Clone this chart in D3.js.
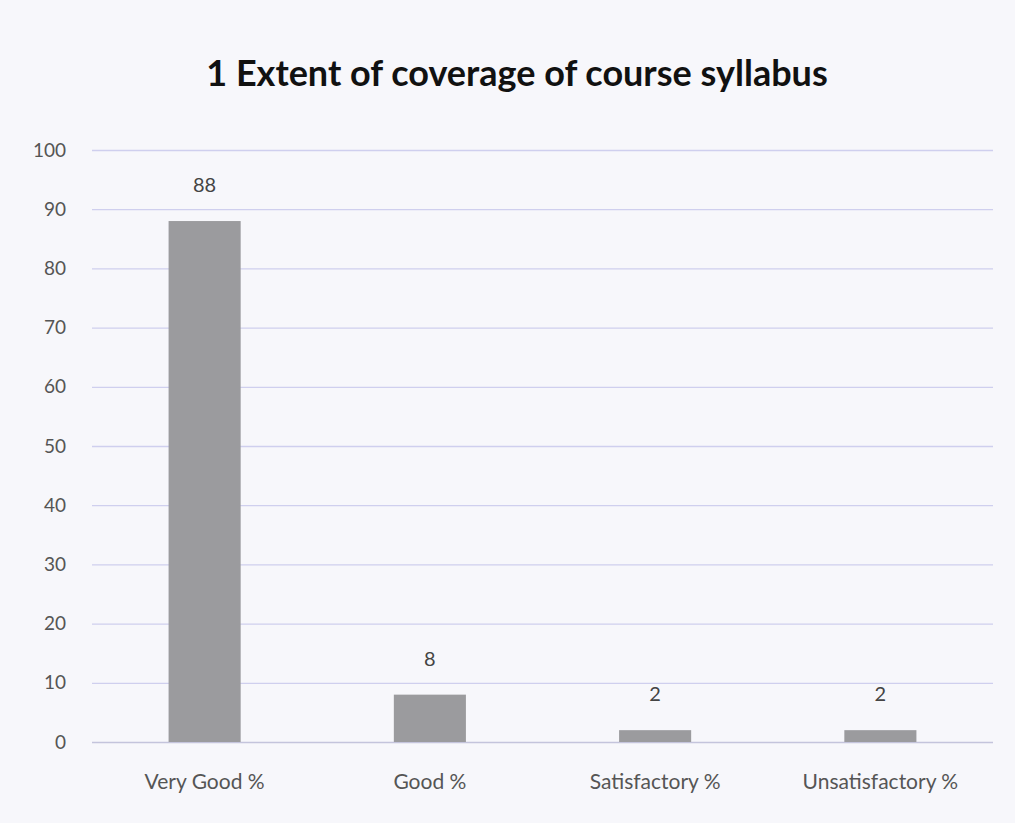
<!DOCTYPE html>
<html lang="en">
<head>
    <meta charset="UTF-8">
    <title>1 Extent of coverage of course syllabus</title>
    <script src="https://cdn.jsdelivr.net/npm/d3@7"></script>
    <style>
        body { margin: 0; background: #f7f7fb; }
        svg { display: block; font-family: Lato, "Open Sans", sans-serif; }
    </style>
</head>
<body>
<svg id="chart" width="1015" height="823"></svg>
<script>
    // data
    var categories = ["Very Good %", "Good %", "Satisfactory %", "Unsatisfactory %"];
    var values = [88, 8, 2, 2];
    var yTicks = [0, 10, 20, 30, 40, 50, 60, 70, 80, 90, 100];
    var title = "1 Extent of coverage of course syllabus";

    var svg = d3.select("#chart");
    var margin = { top: 150, right: 22, bottom: 81, left: 92 };
    var width = +svg.attr("width") - margin.left - margin.right;
    var height = +svg.attr("height") - margin.top - margin.bottom;

    svg.append("rect")
        .attr("width", 1015).attr("height", 823)
        .attr("fill", "#f7f7fb");

    svg.append("text")
        .attr("x", 517).attr("y", 86)
        .attr("text-anchor", "middle")
        .attr("font-size", 36)
        .attr("font-weight", "bold")
        .attr("fill", "#111")
        .text(title);

    var g = svg.append("g")
        .attr("transform", "translate(" + margin.left + "," + margin.top + ")");

    var x = d3.scaleBand()
        .domain(categories)
        .range([0, width])
        .paddingInner(0.68)
        .paddingOuter(0.34);

    var y = d3.scaleLinear()
        .domain([0, 100])
        .range([height, 0]);

    // gridlines
    g.append("g")
        .selectAll("line")
        .data(yTicks)
        .enter()
        .append("line")
        .attr("x1", 0).attr("x2", width)
        .attr("y1", function (d) { return y(d) + 0.5; })
        .attr("y2", function (d) { return y(d) + 0.5; })
        .attr("stroke", function (d) { return d === 0 ? "#c4c4dc" : "#cfcfee"; })
        .attr("stroke-width", 1.3);

    // y axis labels
    var yAxis = d3.axisLeft(y).tickValues(yTicks).tickSize(0).tickPadding(26);
    var ya = g.append("g").call(yAxis);
    ya.select(".domain").remove();
    ya.selectAll("text")
        .attr("font-size", 19)
        .attr("fill", "#555")
        .style("font-family", "Lato, 'Open Sans', sans-serif");

    // x axis labels
    var xAxis = d3.axisBottom(x).tickSize(0).tickPadding(32);
    var xa = g.append("g")
        .attr("transform", "translate(0," + height + ")")
        .call(xAxis);
    xa.select(".domain").remove();
    xa.selectAll("text")
        .attr("font-size", 21)
        .attr("fill", "#555")
        .style("font-family", "Lato, 'Open Sans', sans-serif");

    // bars
    g.selectAll(".bar")
        .data(values)
        .enter()
        .append("rect")
        .attr("class", "bar")
        .attr("x", function (d, i) { return x(categories[i]); })
        .attr("y", function (d) { return y(d); })
        .attr("width", x.bandwidth())
        .attr("height", function (d) { return height - y(d); })
        .attr("fill", "#9b9b9e");

    // value labels
    g.selectAll(".val")
        .data(values)
        .enter()
        .append("text")
        .attr("class", "val")
        .attr("x", function (d, i) { return x(categories[i]) + x.bandwidth() / 2; })
        .attr("y", function (d) { return y(d) - 29; })
        .attr("text-anchor", "middle")
        .attr("font-size", 20)
        .attr("fill", "#444")
        .text(function (d) { return d; });
</script>
</body>
</html>
